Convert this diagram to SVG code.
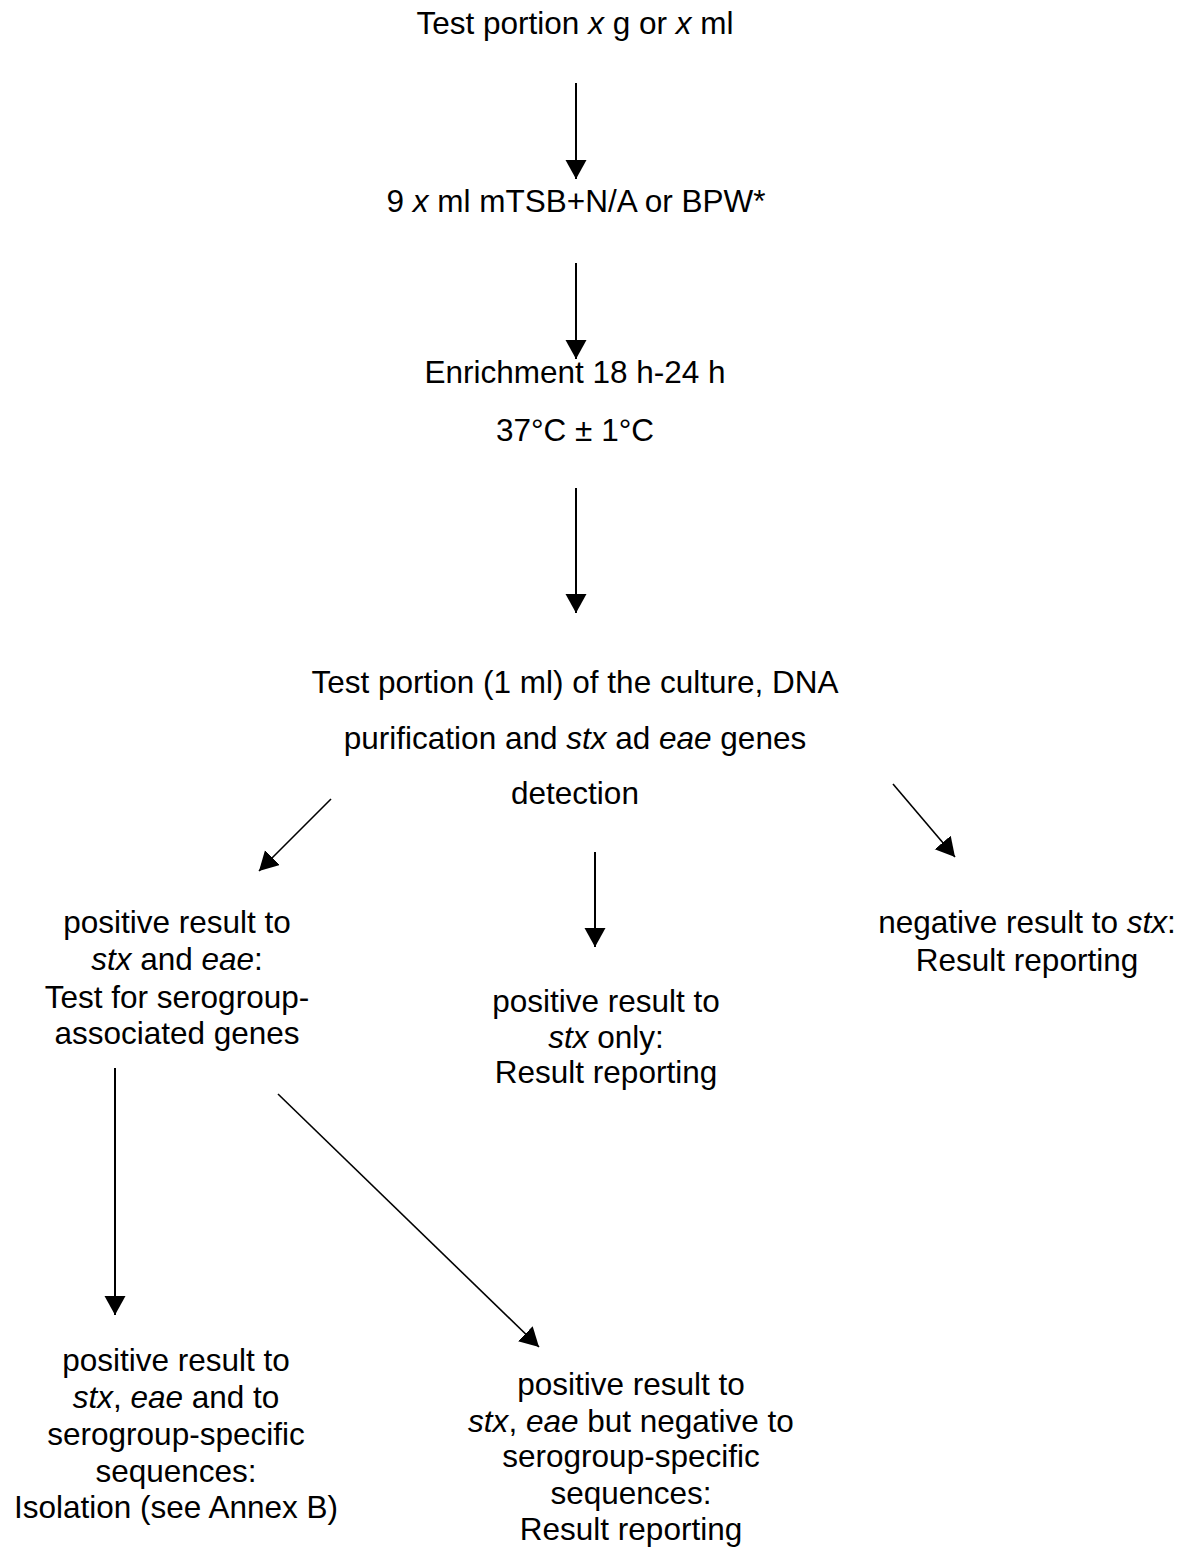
<svg xmlns="http://www.w3.org/2000/svg" width="1186" height="1548" viewBox="0 0 1186 1548">
<style>
text{font-family:"Liberation Sans",Arial,sans-serif;font-size:31.5px;fill:#000;text-anchor:middle}
.i{font-style:italic}
.c{stroke:#000;stroke-width:2;fill:none}
.d{stroke:#000;stroke-width:1.6;fill:none}
</style>
<defs>
<marker id="ah" markerWidth="20" markerHeight="22" refX="19" refY="10.5" orient="auto" markerUnits="userSpaceOnUse">
<path d="M0,0 L19,10.5 L0,21 z" fill="#000"/>
</marker>
</defs>
<rect width="1186" height="1548" fill="#fff"/>
<g id="n1"><text x="575" y="34">Test portion <tspan class="i">x</tspan> g or <tspan class="i">x</tspan> ml</text></g>
<g id="n2"><text x="576" y="212">9 <tspan class="i">x</tspan> ml mTSB+N/A or BPW*</text></g>
<g id="n3"><text x="575" y="383">Enrichment 18 h-24 h</text><text x="575" y="441">37°C ± 1°C</text></g>
<g id="n4"><text x="575" y="693">Test portion (1 ml) of the culture, DNA</text><text x="575" y="749">purification and <tspan class="i">stx</tspan> ad <tspan class="i">eae</tspan> genes</text><text x="575" y="804">detection</text></g>
<g id="n5"><text x="177" y="933">positive result to</text><text x="177" y="970"><tspan class="i">stx</tspan> and <tspan class="i">eae</tspan>:</text><text x="177" y="1008">Test for serogroup-</text><text x="177" y="1044">associated genes</text></g>
<g id="n6"><text x="606" y="1012">positive result to</text><text x="606" y="1048"><tspan class="i">stx</tspan> only:</text><text x="606" y="1083">Result reporting</text></g>
<g id="n7"><text x="1027" y="933">negative result to <tspan class="i">stx</tspan>:</text><text x="1027" y="971">Result reporting</text></g>
<g id="n8"><text x="176" y="1371">positive result to</text><text x="176" y="1408"><tspan class="i">stx</tspan>, <tspan class="i">eae</tspan> and to</text><text x="176" y="1445">serogroup-specific</text><text x="176" y="1482">sequences:</text><text x="176" y="1518">Isolation (see Annex B)</text></g>
<g id="n9"><text x="631" y="1395">positive result to</text><text x="631" y="1432"><tspan class="i">stx</tspan>, <tspan class="i">eae</tspan> but negative to</text><text x="631" y="1467">serogroup-specific</text><text x="631" y="1504">sequences:</text><text x="631" y="1540">Result reporting</text></g>
<g id="connectors">
<line class="c" x1="576" y1="83" x2="576" y2="179" marker-end="url(#ah)"/>
<line class="c" x1="576" y1="263" x2="576" y2="359" marker-end="url(#ah)"/>
<line class="c" x1="576" y1="488" x2="576" y2="613" marker-end="url(#ah)"/>
<line class="d" x1="331" y1="799" x2="259" y2="871" marker-end="url(#ah)"/>
<line class="c" x1="595" y1="852" x2="595" y2="947" marker-end="url(#ah)"/>
<line class="d" x1="893" y1="784" x2="955" y2="857" marker-end="url(#ah)"/>
<line class="c" x1="115" y1="1068" x2="115" y2="1315" marker-end="url(#ah)"/>
<line class="d" x1="278" y1="1094" x2="539" y2="1347" marker-end="url(#ah)"/>
</g>
</svg>
